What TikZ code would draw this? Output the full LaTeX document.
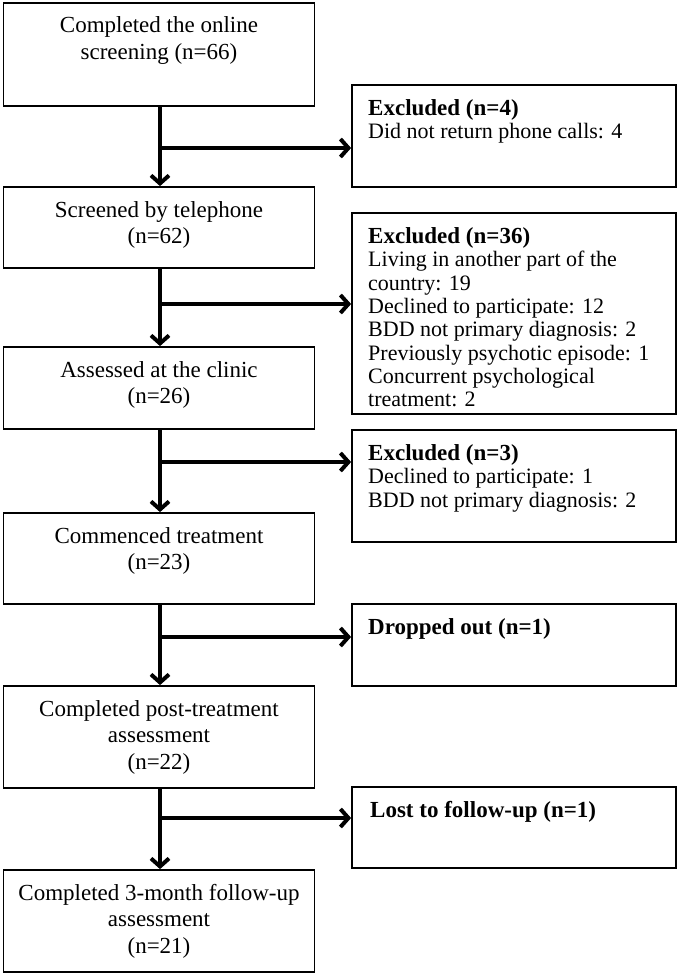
\documentclass[tikz,border=0pt]{standalone}
\usepackage{fontspec}
\setmainfont{Liberation Serif}
\usetikzlibrary{arrows.meta}
\newcommand{\hdfont}{\bfseries\fontsize{23}{23.3}\selectfont}
\begin{document}
\begin{tikzpicture}[x=1pt,y=-1pt,
  lbox/.style={draw=black, line width=1.8pt, rectangle, minimum width=311pt, inner sep=0pt},
  rbox/.style={draw=black, line width=1.8pt, rectangle, minimum width=324pt, inner sep=0pt},
  ltext/.style={anchor=north, align=center, inner sep=0pt, font=\fontsize{23}{26.5}\selectfont},
  rtext/.style={anchor=north west, align=left, inner sep=0pt, font=\fontsize{22}{23.3}\selectfont},
  flow/.style={line width=4pt, -{Straight Barb[length=8pt,width=18pt]}},
]
\useasboundingbox (0,0) rectangle (678,975);

% left boxes
\node[lbox, minimum height=103pt] (b1) at (159,54.5) {};
\node[lbox, minimum height=81pt]  (b2) at (159,227.5) {};
\node[lbox, minimum height=82pt]  (b3) at (159,388) {};
\node[lbox, minimum height=91pt]  (b4) at (159,558.5) {};
\node[lbox, minimum height=102pt] (b5) at (159,737) {};
\node[lbox, minimum height=102pt] (b6) at (159,921) {};

\node[ltext] (t1) at (159,16.5) {Completed the online\\screening (n=66)};
\node[ltext] (t2) at (159,201) {Screened by telephone\\(n=62)};
\node[ltext] (t3) at (159,361) {Assessed at the clinic\\(n=26)};
\node[ltext] (t4) at (159,527) {Commenced treatment\\(n=23)};
\node[ltext] (t5) at (159,700) {Completed post-treatment\\assessment\\(n=22)};
\node[ltext] (t6) at (159,884) {Completed 3-month follow-up\\assessment\\(n=21)};

% right boxes
\node[rbox, minimum height=102pt] (r1) at (514,136) {};
\node[rbox, minimum height=201pt] (r2) at (514,313.5) {};
\node[rbox, minimum height=112pt] (r3) at (514,486) {};
\node[rbox, minimum height=82pt]  (r4) at (514,645) {};
\node[rbox, minimum height=81pt]  (r5) at (514,827.5) {};

\node[rtext] (s1) at (368,99.5) {{\hdfont Excluded (n=4)}\\Did not return phone calls: 4};
\node[rtext] (s2) at (368,227.5) {{\hdfont Excluded (n=36)}\\Living in another part of the\\country: 19\\Declined to participate: 12\\BDD not primary diagnosis: 2\\Previously psychotic episode: 1\\Concurrent psychological\\treatment: 2};
\node[rtext] (s3) at (368,444.5) {{\hdfont Excluded (n=3)}\\Declined to participate: 1\\BDD not primary diagnosis: 2};
\node[rtext] (s4) at (368,618.5) {{\hdfont Dropped out (n=1)}};
\node[rtext] (s5) at (370,801.5) {{\hdfont Lost to follow-up (n=1)}};

% junctions
\coordinate (j1) at (160,148);
\coordinate (j2) at (160,304);
\coordinate (j3) at (160,462);
\coordinate (j4) at (160,637);
\coordinate (j5) at (160,818);

\draw[flow] (b1.south -| j1) -- (b2.north -| j1);
\draw[flow] (b2.south -| j2) -- (b3.north -| j2);
\draw[flow] (b3.south -| j3) -- (b4.north -| j3);
\draw[flow] (b4.south -| j4) -- (b5.north -| j4);
\draw[flow] (b5.south -| j5) -- (b6.north -| j5);

\draw[flow] (j1) -- (j1 -| r1.west);
\draw[flow] (j2) -- (j2 -| r2.west);
\draw[flow] (j3) -- (j3 -| r3.west);
\draw[flow] (j4) -- (j4 -| r4.west);
\draw[flow] (j5) -- (j5 -| r5.west);
\end{tikzpicture}
\end{document}
